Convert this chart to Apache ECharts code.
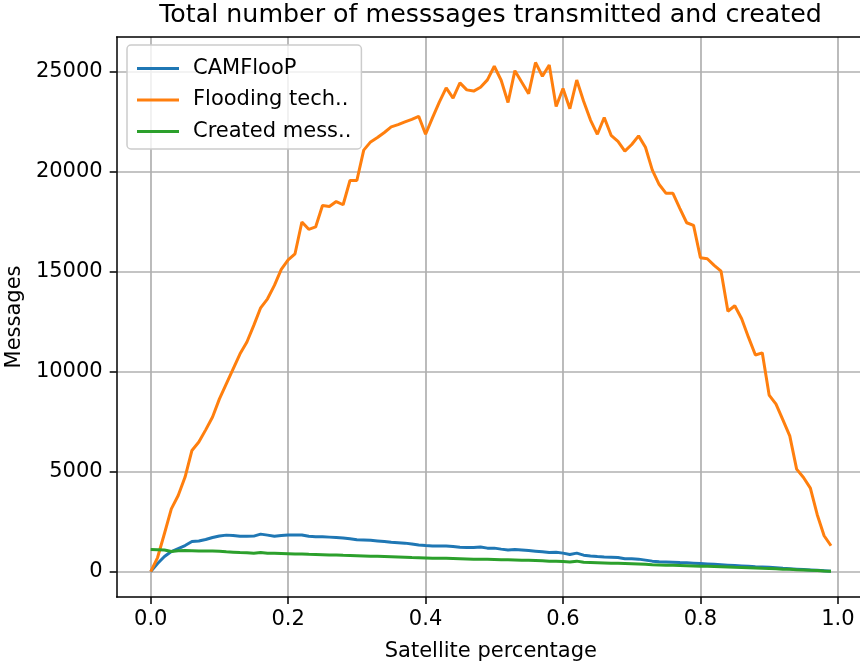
<!DOCTYPE html>
<html>
<head>
<meta charset="utf-8">
<script src="https://cdn.jsdelivr.net/npm/echarts@6/dist/echarts.min.js"></script>
<style>
html,body{margin:0;padding:0;background:#fff;}
#chart{width:860px;height:664px;}
</style>
</head>
<body>
<div id="chart"></div>
<script>
const satellitePct = [0.00,0.01,0.02,0.03,0.04,0.05,0.06,0.07,0.08,0.09,
  0.10,0.11,0.12,0.13,0.14,0.15,0.16,0.17,0.18,0.19,
  0.20,0.21,0.22,0.23,0.24,0.25,0.26,0.27,0.28,0.29,
  0.30,0.31,0.32,0.33,0.34,0.35,0.36,0.37,0.38,0.39,
  0.40,0.41,0.42,0.43,0.44,0.45,0.46,0.47,0.48,0.49,
  0.50,0.51,0.52,0.53,0.54,0.55,0.56,0.57,0.58,0.59,
  0.60,0.61,0.62,0.63,0.64,0.65,0.66,0.67,0.68,0.69,
  0.70,0.71,0.72,0.73,0.74,0.75,0.76,0.77,0.78,0.79,
  0.80,0.81,0.82,0.83,0.84,0.85,0.86,0.87,0.88,0.89,
  0.90,0.91,0.92,0.93,0.94,0.95,0.96,0.97,0.98,0.99];

const camfloop = [0,400,750,1000,1150,1300,1500,1530,1600,1700,
  1780,1820,1800,1760,1760,1770,1870,1820,1760,1800,
  1830,1830,1830,1760,1740,1740,1720,1700,1680,1640,
  1590,1580,1560,1530,1500,1460,1440,1420,1380,1330,
  1300,1280,1280,1280,1250,1210,1200,1200,1230,1170,
  1170,1120,1080,1100,1080,1050,1020,990,950,960,
  920,850,920,820,780,750,730,720,700,640,
  640,620,570,520,490,480,470,450,440,420,
  400,380,360,340,320,300,280,260,240,230,
  210,190,160,140,120,100,80,60,40,20];

const flooding = [0,700,1900,3130,3800,4720,6050,6470,7080,7720,
  8630,9380,10130,10880,11470,12300,13180,13630,14300,15100,
  15580,15880,17470,17100,17220,18290,18240,18490,18330,19540,
  19540,21060,21470,21690,21940,22220,22330,22470,22600,22750,
  21850,22670,23460,24170,23660,24420,24070,24010,24200,24570,
  25250,24550,23440,25030,24450,23880,25440,24750,25310,23240,
  24140,23130,24560,23500,22560,21850,22690,21800,21500,21010,
  21340,21770,21200,20060,19340,18900,18900,18150,17430,17300,
  15680,15630,15300,15010,13010,13280,12630,11700,10820,10930,
  8820,8370,7580,6780,5120,4700,4170,2840,1790,1290];

const created = [1100,1090,1080,1000,1040,1050,1040,1030,1030,1030,
  1020,990,970,950,940,920,950,920,910,900,
  890,880,880,860,850,840,830,830,810,800,
  790,780,770,760,750,740,730,720,700,690,
  680,670,660,660,650,640,630,620,620,610,
  600,590,590,580,570,560,550,540,520,510,
  500,480,520,460,450,440,430,420,410,400,
  390,380,360,340,330,320,310,300,290,280,
  270,260,250,240,230,210,200,190,180,160,
  150,140,120,110,90,80,60,50,30,20];

const seriesNames = ['CAMFlooP', 'Flooding tech..', 'Created mess..'];
const seriesColors = ['#1f77b4', '#ff7f0e', '#2ca02c'];
const xTicks = [0.0, 0.2, 0.4, 0.6, 0.8, 1.0];
const yTicks = [0, 5000, 10000, 15000, 20000, 25000];

const allSeries = [camfloop, flooding, created];
const FONT = 'DejaVu Sans';

const xMinData = satellitePct[0], xMaxData = satellitePct[satellitePct.length - 1];
const xPad = 0.05 * (xMaxData - xMinData);
let yMaxData = -Infinity, yMinData = Infinity;
allSeries.forEach(s => s.forEach(v => { yMaxData = Math.max(yMaxData, v); yMinData = Math.min(yMinData, v); }));
const yPad = 0.05 * (yMaxData - yMinData);

const chart = echarts.init(document.getElementById('chart'), null, {renderer: 'canvas'});

const option = {
  animation: false,
  backgroundColor: '#ffffff',
  title: {
    text: 'Total number of messsages transmitted and created',
    left: 490.5,
    top: 15,
    padding: 0,
    textAlign: 'center',
    textVerticalAlign: 'middle',
    textStyle: {fontFamily: FONT, fontSize: 25.3, fontWeight: 'normal', color: '#000'}
  },
  legend: {
    orient: 'vertical',
    left: 127,
    top: 45,
    padding: [13, 10, 7, 10],
    itemGap: 10.5,
    itemWidth: 42,
    itemHeight: 3,
    icon: 'rect',
    backgroundColor: 'rgba(255,255,255,0.8)',
    borderColor: '#cccccc',
    borderWidth: 1.5,
    borderRadius: 4,
    textStyle: {fontFamily: FONT, fontSize: 21, color: '#000', padding: [0, 0, 0, 9]},
    data: seriesNames
  },
  grid: {left: 116.7, right: -5, top: 37, bottom: 67, containLabel: false, outerBoundsMode: 'none', show: false},
  xAxis: [{
    type: 'value',
    min: xMinData - xPad,
    max: xMaxData + xPad,
    name: 'Satellite percentage',
    nameLocation: 'middle',
    nameGap: 44,
    nameTextStyle: {fontFamily: FONT, fontSize: 21, color: '#000'},
    axisLine: {show: true, onZero: false, lineStyle: {color: '#000', width: 1.5}},
    axisTick: {show: true, inside: false, length: 7, lineStyle: {color: '#000', width: 1.5}, customValues: xTicks},
    axisLabel: {show: true, margin: 12, fontFamily: FONT, fontSize: 21, color: '#000',
      customValues: xTicks, formatter: v => v.toFixed(1)},
    splitLine: {show: true, lineStyle: {color: '#b0b0b0', width: 1.7}}
  }, {
    type: 'value', position: 'top',
    min: xMinData - xPad, max: xMaxData + xPad,
    axisLine: {show: true, onZero: false, lineStyle: {color: '#000', width: 1.5}},
    axisTick: {show: false}, axisLabel: {show: false}, splitLine: {show: false}
  }],
  yAxis: [{
    type: 'value',
    min: yMinData - yPad,
    max: yMaxData + yPad,
    name: 'Messages',
    nameLocation: 'middle',
    nameRotate: 90,
    nameGap: 86,
    nameTextStyle: {fontFamily: FONT, fontSize: 21, color: '#000'},
    axisLine: {show: true, onZero: false, lineStyle: {color: '#000', width: 1.5}},
    axisTick: {show: true, inside: false, length: 7, lineStyle: {color: '#000', width: 1.5}, customValues: yTicks},
    axisLabel: {show: true, margin: 14, fontFamily: FONT, fontSize: 21, color: '#000',
      customValues: yTicks, formatter: v => String(v)},
    splitLine: {show: true, lineStyle: {color: '#b0b0b0', width: 1.7}}
  }, {
    type: 'value', position: 'right',
    min: yMinData - yPad, max: yMaxData + yPad,
    axisLine: {show: true, onZero: false, lineStyle: {color: '#000', width: 1.5}},
    axisTick: {show: false}, axisLabel: {show: false}, splitLine: {show: false}
  }],
  series: allSeries.map((vals, k) => ({
    name: seriesNames[k],
    type: 'line',
    xAxisIndex: 0,
    yAxisIndex: 0,
    showSymbol: false,
    symbol: 'none',
    lineStyle: {color: seriesColors[k], width: 3},
    itemStyle: {color: seriesColors[k]},
    data: satellitePct.map((x, i) => [x, vals[i]]),
    z: 3 + k
  }))
};
chart.setOption(option);
</script>
</body>
</html>
